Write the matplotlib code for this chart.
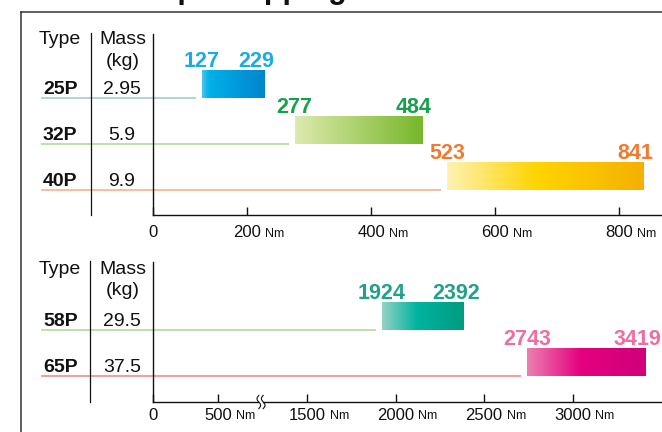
import numpy as np
import matplotlib
matplotlib.use("Agg")
import matplotlib.pyplot as plt
from matplotlib.colors import LinearSegmentedColormap
from matplotlib.lines import Line2D
from matplotlib.patches import Rectangle
from matplotlib import transforms

plt.rcParams["font.family"] = ["Liberation Sans", "DejaVu Sans"]

# light models (upper chart)
types_a = ["25P", "32P", "40P"]
mass_a = ["2.95", "5.9", "9.9"]
low_a = [127, 277, 523]
high_a = [229, 484, 841]
ticks_a = [0, 200, 400, 600, 800]

# heavy models (lower chart, broken axis between 500 and 1500)
types_b = ["58P", "65P"]
mass_b = ["29.5", "37.5"]
low_b = [1924, 2743]
high_b = [2392, 3419]
ticks_b = [0, 500, 1500, 2000, 2500, 3000]

# styling
grad_a = [[(0, "#45c3ee"), (0.1, "#00b1e9"), (1, "#0084cc")],
          [(0, "#dde9ad"), (1, "#76b72a")],
          [(0, "#fff2b3"), (0.45, "#ffd500"), (1, "#f5b000")]]
grad_b = [[(0, "#93d1c3"), (0.42, "#00b3a1"), (1, "#009b7f")],
          [(0, "#ec7fb0"), (0.45, "#e5007f"), (1, "#cf007a")]]
text_a = ["#19ace4", "#17a04b", "#f07a2f"]
text_b = ["#21a08a", "#ec6ea2"]
rule_a = ["#a6ccd4", "#b4d99a", "#f4b38e"]
rule_b = ["#b4d99a", "#ee8e8e"]

W, H = 662, 432
ROW = 46.0          # row pitch in pixels
INK = "#111111"
fig = plt.figure(figsize=(W / 100, H / 100), dpi=100)


def fx(px):
    return px / W


def fy(py):
    return 1 - py / H


def piecewise(xp, fp):
    xp = np.asarray(xp, float)
    fp = np.asarray(fp, float)
    return (lambda x: np.interp(x, xp, fp)), (lambda y: np.interp(y, fp, xp))


def gradient_bar(ax, y, lo, hi, h, stops):
    bar = ax.barh(y, hi - lo, left=lo, height=h, color="none", edgecolor="none")[0]
    cmap = LinearSegmentedColormap.from_list("g", stops)
    img = ax.imshow(np.linspace(0, 1, 256)[None, :], cmap=cmap, aspect="auto",
                    extent=(lo, hi, y + h / 2, y - h / 2), interpolation="bilinear",
                    zorder=2)
    img.set_clip_path(bar)


def panel(top_px, bot_px, first_row_px, scale, types, mass, low, high, ticks,
          grads, tcols, rcols, head_px, sep_x, tick_pad):
    fwd, inv = scale
    ax = fig.add_axes([fx(41), fy(bot_px), fx(662 - 41), (bot_px - top_px) / H])
    ax.set_xscale("function", functions=scale)
    x0, x1 = inv(41), inv(662)
    h = 28 / ROW
    n = len(types)
    for i in range(n):
        gradient_bar(ax, i, low[i], high[i], h, grads[i])
        end = inv(fwd(low[i]) - 6)
        ax.plot([x0, end], [i + h / 2, i + h / 2], color=rcols[i], lw=1.2,
                solid_capstyle="butt", zorder=1)
        ax.annotate(str(low[i]), xy=(low[i], i - h / 2), xytext=(0, 2.2),
                    textcoords="offset points", ha="center", va="baseline",
                    fontsize=15.5, fontweight="bold", color=tcols[i])
        ax.annotate(str(high[i]), xy=(high[i], i - h / 2), xytext=(-6.5, 2.2),
                    textcoords="offset points", ha="center", va="baseline",
                    fontsize=15.5, fontweight="bold", color=tcols[i],
                    annotation_clip=False)
    ax.set_xlim(x0, x1)
    ax.set_ylim((bot_px - first_row_px) / ROW, -(first_row_px - top_px) / ROW)
    for s in ("top", "right"):
        ax.spines[s].set_visible(False)
    ax.spines["left"].set_position(("data", 0))
    ax.spines["bottom"].set_bounds(0, x1)
    for s in ("left", "bottom"):
        ax.spines[s].set_color(INK)
        ax.spines[s].set_linewidth(1.0)
    ax.set_yticks([])
    ax.set_xticks(ticks, labels=[str(t) for t in ticks])
    ax.tick_params(axis="x", direction="in", length=6, width=1, color=INK,
                   pad=tick_pad, labelsize=12, labelcolor=INK)

    # model / mass table on the left
    tr = transforms.blended_transform_factory(fig.transFigure, ax.transData)
    for i in range(n):
        ax.text(fx(43), i + 10.5 / ROW, types[i], transform=tr, fontsize=14,
                fontweight="bold", va="baseline", ha="left", color=INK)
        ax.text(fx(122), i + 10.5 / ROW, mass[i], transform=tr, fontsize=14,
                va="baseline", ha="center", color=INK)
    fig.text(fx(39), fy(head_px), "Type", fontsize=14, va="baseline", color=INK)
    fig.text(fx(122.5), fy(head_px), "Mass", fontsize=14, va="baseline",
             ha="center", color=INK)
    fig.text(fx(122.5), fy(head_px + 21.5), "(kg)", fontsize=14, va="baseline",
             ha="center", color=INK)
    fig.add_artist(Line2D([fx(sep_x), fx(sep_x)], [fy(top_px - 1), fy(bot_px)],
                          color=INK, lw=0.9))
    return ax


scale_a = piecewise([-1000, 0, 100, 2000], [153 - 320, 153, 185, 123 + 0.62 * 2000])
scale_b = piecewise([-5000, 0, 500, 1500, 6000],
                    [153 - 650, 153, 218, 307, 307 + 0.177 * 4500])

ax_a = panel(34, 215, 84, scale_a, types_a, mass_a, low_a, high_a, ticks_a,
             grad_a, text_a, rule_a, 44.5, 91, 7.5)
ax_b = panel(262, 402, 316, scale_b, types_b, mass_b, low_b, high_b, ticks_b,
             grad_b, text_b, rule_b, 273.5, 89.5, 4.0)

# unit suffix after each non-zero tick value
fig.canvas.draw()
for ax in (ax_a, ax_b):
    for lab in ax.xaxis.get_majorticklabels():
        if lab.get_text() != "0":
            ax.annotate("Nm", xy=(1, 0), xycoords=lab, xytext=(3, 0.3),
                        textcoords="offset points", fontsize=9, va="bottom",
                        ha="left", color=INK, annotation_clip=False)

# axis break marks on the lower chart
brk = fig.dpi_scale_trans + transforms.ScaledTranslation((261 - 41) / 621, 0, ax_b.transAxes)
ax_b.add_artist(Rectangle((-0.022, -0.015), 0.044, 0.03, transform=brk,
                          facecolor="white", edgecolor="none", zorder=5, clip_on=False))
t = np.linspace(-1, 1, 60)
for off in (-0.022, 0.022):
    ax_b.add_artist(Line2D(off - 0.018 * np.sin(np.pi * t), 0.066 * t, transform=brk,
                           color=INK, lw=0.8, zorder=6, clip_on=False))

# outer frame and heading
fig.add_artist(Line2D([fx(21), fx(21)], [fy(12), 0], color="#333333", lw=1.1))
fig.add_artist(Line2D([fx(21), 1], [fy(12), fy(12)], color="#333333", lw=1.1))
fig.text(fx(120), fy(-2), "Torque capping", fontsize=22, fontweight="bold",
         va="baseline", ha="left", color=INK)

fig.savefig("out.png", dpi=100)
